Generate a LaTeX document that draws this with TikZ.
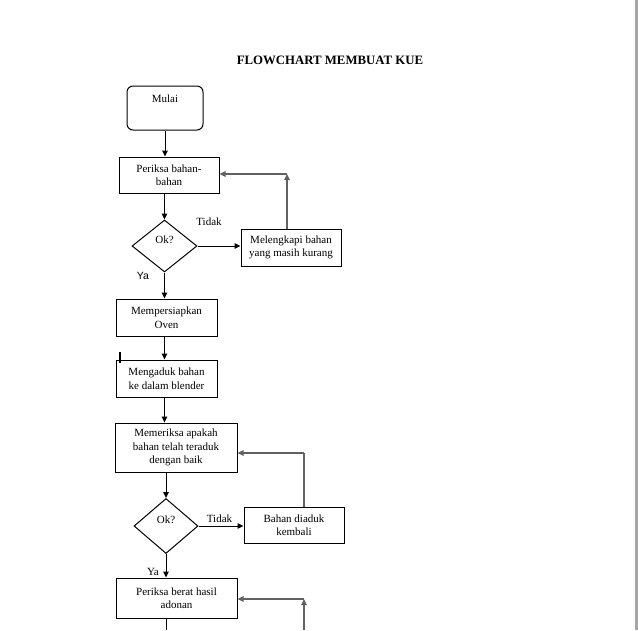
\documentclass[tikz,border=0pt]{standalone}
\usepackage{fontspec}
\setmainfont{Liberation Serif}
\newfontfamily\labelsans{Liberation Sans}
\usetikzlibrary{shapes.geometric,arrows.meta}
\begin{document}
\begin{tikzpicture}[x=1pt,y=-1pt,
  font=\fontsize{11}{13.5}\selectfont,
  procbox/.style={draw, line width=1pt, rectangle, inner sep=0pt, align=center},
  decbox/.style={draw, line width=1pt, diamond, inner sep=0pt},
  txt/.style={inner sep=0pt, align=center},
  conn/.style={line width=1pt, -{Triangle[length=6pt,width=5.5pt]}},
  fb/.style={line width=1.2pt, draw=black!62},
  fbarrow/.style={fb, -{Triangle[length=6pt,width=5.5pt]}}]
\useasboundingbox (0,0) rectangle (638,630);
\fill[white] (0,0) rectangle (638,630);
\fill[gray!70] (635,0) rectangle (637.5,630);

% title
\node[txt, font=\fontsize{12.8}{15}\selectfont\bfseries] (title) at (330,60) {FLOWCHART MEMBUAT KUE};

% nodes
\node[draw, line width=1pt, rounded corners=6pt, minimum width=76pt, minimum height=44pt, inner sep=0pt] (mulai) at (165,108) {};
\node[txt] (mulaitxt) at (165,99) {Mulai};
\node[procbox, minimum width=100pt, minimum height=36pt] (b1) at (169,175) {Periksa bahan-\\bahan};
\node[decbox, minimum width=65pt, minimum height=52pt] (d1) at (164.5,246) {};
\node[txt] (d1txt) at (164.5,240) {Ok?};
\node[procbox, minimum width=100pt, minimum height=37pt] (b2) at (291,247.5) {Melengkapi bahan\\yang masih kurang};
\node[procbox, minimum width=101pt, minimum height=37pt] (b3) at (166.5,317.5) {Mempersiapkan\\Oven};
\node[procbox, minimum width=101pt, minimum height=37pt] (b4) at (166.5,378.5) {Mengaduk bahan\\ke dalam blender};
\node[procbox, minimum width=122pt, minimum height=49pt] (b5) at (176,447.5) {Memeriksa apakah\\bahan telah teraduk\\dengan baik};
\node[decbox, minimum width=64pt, minimum height=55pt] (d2) at (166,526) {};
\node[txt] (d2txt) at (166,520) {Ok?};
\node[procbox, minimum width=100pt, minimum height=36pt] (b6) at (294,525) {Bahan diaduk\\kembali};
\node[procbox, minimum width=121pt, minimum height=40pt] (b7) at (176.5,598) {Periksa berat hasil\\adonan};

% labels
\node[txt] (t1) at (209,222) {Tidak};
\node[txt, font=\labelsans\fontsize{10.5}{12}\selectfont] (y1) at (143,275.5) {Ya};
\node[txt] (t2) at (219.5,518.5) {Tidak};
\node[txt] (y2) at (153,571.5) {Ya};

% helper coordinates
\coordinate (c1) at (287,174);
\coordinate (c2) at (304,453);
\coordinate (c3) at (304,599);
\coordinate (c4) at (304,630);
\coordinate (c5) at (166,630);

% main flow
\draw[conn] (mulai.south) -- (mulai.south |- b1.north);
\draw[conn] (d1.north |- b1.south) -- (d1.north);
\draw[conn] (d1.east) -- (d1.east -| b2.west);
\draw[conn] (d1.south) -- (d1.south |- b3.north);
\draw[conn] (d1.south |- b3.south) -- (d1.south |- b4.north);
\draw[conn] (d1.south |- b4.south) -- (d1.south |- b5.north);
\draw[conn] (d2.north |- b5.south) -- (d2.north);
\draw[conn] (d2.east) -- (d2.east -| b6.west);
\draw[conn] (d2.south) -- (d2.south |- b7.north);
\draw[line width=1pt] (d2.south |- b7.south) -- (c5);

% feedback loops
\draw[fbarrow] (b2.north -| c1) -- (c1);
\draw[fbarrow] (c1) -- (c1 -| b1.east);
\draw[fb] (b6.north -| c2) -- (c2);
\draw[fbarrow] (c2) -- (c2 -| b5.east);
\draw[fbarrow] (c4) -- (c3);
\draw[fbarrow] (c3) -- (c3 -| b7.east);

% text cursor mark
\draw[line width=1.8pt] (120,352) -- (120,363);
\end{tikzpicture}
\end{document}
